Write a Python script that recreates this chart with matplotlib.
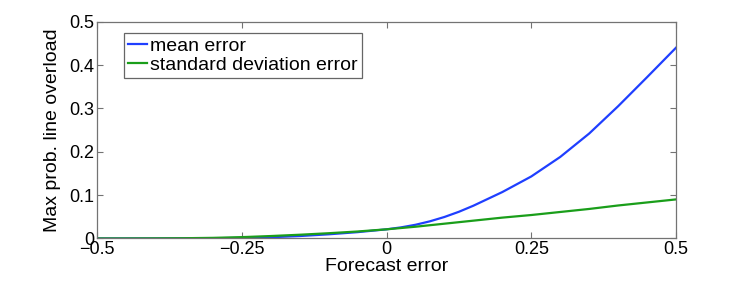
import matplotlib
matplotlib.use("Agg")
import matplotlib.pyplot as plt

plt.rcParams['font.family'] = ['Liberation Sans', 'DejaVu Sans']

# forecast error grid and read-off curve values
forecast_error = [-0.5, -0.45, -0.4, -0.35, -0.3, -0.25, -0.2, -0.15, -0.1, -0.05,
                  0.0, 0.025, 0.05, 0.075, 0.1, 0.125, 0.15, 0.2, 0.25, 0.3, 0.35, 0.4, 0.45, 0.5]
mean_err = [0.0, 0.0, 0.0, 0.0002, 0.0005, 0.0012, 0.0028, 0.0055, 0.0095, 0.0145,
            0.021, 0.0255, 0.0315, 0.0395, 0.0495, 0.0615, 0.0755, 0.107, 0.143, 0.188, 0.242,
            0.305, 0.372, 0.440]
std_err = [0.0, 0.0, 0.0002, 0.0005, 0.0013, 0.003, 0.0055, 0.0085, 0.012, 0.016,
           0.021, 0.024, 0.027, 0.0305, 0.034, 0.0375, 0.041, 0.048, 0.054, 0.061, 0.068,
           0.076, 0.083, 0.090]
xticks = [-0.5, -0.25, 0, 0.25, 0.5]
xticklabels = ['\u22120.5', '\u22120.25', '0', '0.25', '0.5']
yticks = [0, 0.1, 0.2, 0.3, 0.4, 0.5]
yticklabels = ['0', '0.1', '0.2', '0.3', '0.4', '0.5']

fig = plt.figure(figsize=(7.47, 2.89), dpi=100)
ax = fig.add_axes([0.13, 0.175, 0.775, 0.75])

ax.plot(forecast_error, mean_err, color='#1f3fff', lw=1.6, label='mean error')
ax.plot(forecast_error, std_err, color='#1a9e1a', lw=1.6, label='standard deviation error')

ax.set_xlim(-0.5, 0.5)
ax.set_ylim(0, 0.5)
ax.set_xticks(xticks)
ax.set_xticklabels(xticklabels)
ax.set_yticks(yticks)
ax.set_yticklabels(yticklabels)
ax.tick_params(direction='in', top=True, right=True, length=4, width=0.8,
               color='0.45', labelsize=13, pad=2)
for s in ax.spines.values():
    s.set_color('0.45')
    s.set_linewidth(0.9)

ax.set_xlabel('Forecast error', fontsize=14, labelpad=0)
ax.set_ylabel('Max prob. line overload', fontsize=14, labelpad=6)

leg = ax.legend(loc='upper left', bbox_to_anchor=(0.046, 0.947), fontsize=14,
                fancybox=False, framealpha=1, edgecolor='0.4', handlelength=1.0,
                handletextpad=0.15, borderpad=0.2, labelspacing=0.1, borderaxespad=0)
leg.get_frame().set_linewidth(0.9)

fig.savefig('out.png', dpi=100)
